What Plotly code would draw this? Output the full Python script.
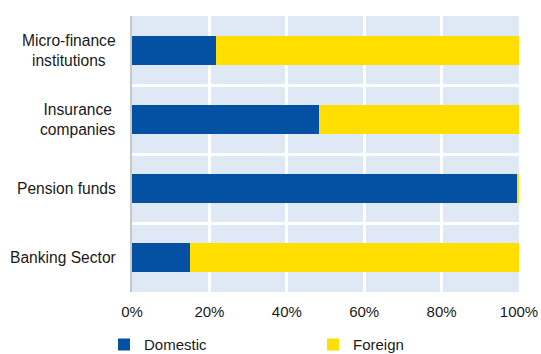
import plotly.graph_objects as go

categories = ["Banking Sector", "Pension funds", "Insurance companies", "Micro-finance institutions"]
labels = ["Banking Sector", "Pension funds", "Insurance<br>companies", "Micro-finance<br>institutions"]
domestic = [15.1, 99.5, 48.4, 21.7]
foreign = [84.9, 0.5, 51.6, 78.3]
tick_vals = [0, 20, 40, 60, 80, 100]
tick_text = ["0%", "20%", "40%", "60%", "80%", "100%"]

FONT = "Liberation Sans, Arial, sans-serif"

fig = go.Figure()
fig.add_trace(go.Bar(y=categories, x=domestic, name="Domestic", orientation="h",
                     marker=dict(color="#0450A3", line=dict(width=0)), legend="legend"))
fig.add_trace(go.Bar(y=categories, x=foreign, name="Foreign", orientation="h",
                     marker=dict(color="#FFDE00", line=dict(width=0)), legend="legend2"))

for cat, lab in zip(categories, labels):
    fig.add_annotation(x=0, xref="paper", y=cat, yref="y", text=lab, showarrow=False,
                       xanchor="right", yanchor="middle", align="center", xshift=-14,
                       font=dict(family=FONT, size=15.6, color="#1a1a1a"))

leg_common = dict(orientation="h", xref="container", yref="container", y=0.026,
                  xanchor="left", yanchor="middle", font=dict(family=FONT, size=15),
                  itemwidth=30, bgcolor="rgba(0,0,0,0)")

fig.update_layout(
    barmode="stack",
    bargap=0.59,
    width=541, height=354,
    margin=dict(l=132, r=22, t=16, b=62, autoexpand=False),
    paper_bgcolor="white",
    plot_bgcolor="#DEE9F5",
    font=dict(family=FONT, size=15, color="#1a1a1a"),
    showlegend=True,
    legend=dict(x=104 / 541, **leg_common),
    legend2=dict(x=313 / 541, **leg_common),
)
fig.update_xaxes(range=[0, 100], tickvals=tick_vals, ticktext=tick_text,
                 showgrid=True, gridcolor="white", gridwidth=3, zeroline=False,
                 showline=False, ticks="", fixedrange=True, ticklabelstandoff=9)
fig.update_yaxes(type="category", tickson="boundaries", showgrid=True, gridcolor="white",
                 gridwidth=3, showline=True, linecolor="#C8C8C8", linewidth=2,
                 ticks="", showticklabels=False, fixedrange=True)

fig.write_html("out.html", config={"displayModeBar": False},
               post_script="document.body.style.margin='0';document.body.style.overflow='hidden';")
